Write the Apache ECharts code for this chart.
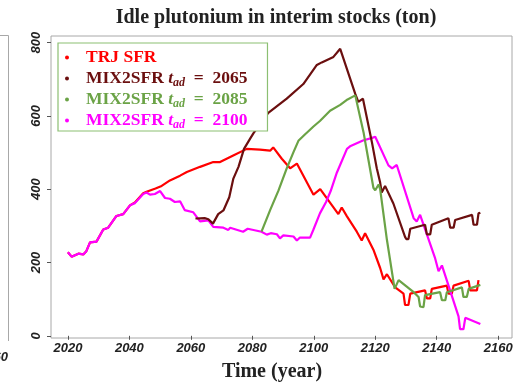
<!DOCTYPE html>
<html><head><meta charset="utf-8">
<script src="https://cdn.jsdelivr.net/npm/echarts@6/dist/echarts.min.js"></script>
<style>html,body{margin:0;padding:0;background:#fff}#c{width:522px;height:387px}</style>
</head><body><div id="c"></div>
<script>
// ---- data ----
const xTicks = [2020, 2040, 2060, 2080, 2100, 2120, 2140, 2160];
const yTicks = [0, 200, 400, 600, 800];
const seriesNames = ['TRJ SFR', 'MIX2SFR t_ad = 2065', 'MIX2SFR t_ad = 2085', 'MIX2SFR t_ad = 2100'];

const trjYears = [2020,2021.2,2023.4,2025,2026,2027.2,2029.3,2031.5,2033.1,2035.8,2038,2040.2,2041.8,2044.5,2045.6,
  2048.5,2050.5,2053.2,2056.5,2058.7,2063,2067.3,2069.5,2073.8,2078.2,2082.5,2085.8,2086.8,2089.6,2092.3,2094.5,
  2099.9,2102.1,2108,2109.1,2110.8,2114,2115.6,2116.7,2119.4,2121.6,2122.7,2123.8,2126.5,2129.2,2129.7,2130.8,
  2131.4,2136.2,2136.8,2137.9,2138.4,2143.3,2143.8,2144.9,2145.5,2150.4,2150.9,2153.1,2153.6];
const trjValues = [228,216,224,222,231,255,257,290,295,327,332,356,364,389,393,
  402,409,424,437,447,461,474,474,492,510,508,505,514,483,457,470,
  385,400,332,350,326,284,260,280,235,185,154,168,132,115,84,84,
  115,124,102,102,128,137,115,115,137,150,124,124,152];

const m2065Years = [2061.5,2064.5,2065.7,2067.2,2068.9,2070.6,2072.5,2073.8,2075.5,2077.3,2079.3,2080.4,2085.2,2091.2,
  2096.6,2101,2102.6,2106.4,2108.6,2113.5,2114.5,2116,2118.9,2120.5,2121.6,2122.1,2123.2,2125.9,2129.7,2130.1,
  2130.8,2131.4,2136.2,2136.8,2137.9,2138.4,2143.8,2144.4,2145.5,2146,2151.5,2152,2153.1,2153.6,2154.2];
const m2065Values = [320,321,318,306,332,342,378,428,461,510,538,553,608,647,
  687,739,746,761,783,660,638,647,529,457,418,391,409,361,270,264,
  264,292,303,277,277,303,321,295,295,316,330,303,303,334,336];

const m2085Years = [2083,2085.8,2088.5,2091.2,2093.4,2095,2096.6,2099.9,2102,2105.3,2108.6,2111,2113.5,2116.2,2117.3,
  2119.4,2120,2121.1,2121.6,2123.8,2126.3,2127.6,2132.5,2134.1,2134.6,2135.7,2136.2,2141.1,2141.7,2142.8,2143.3,
  2148.2,2148.7,2149.8,2150.4,2154.2];
const m2085Values = [284,343,396,457,501,532,545,571,586,614,630,645,656,555,503,
  404,397,413,400,262,128,152,119,106,80,78,111,119,97,97,119,
  132,106,106,128,139];

const m2100Years = [2020,2021.2,2023.4,2025,2026,2027.2,2029.3,2031.5,2033.1,2035.8,2038,2040.2,2041.8,2044.5,2045.6,
  2046.7,2048.3,2050,2051.6,2053.2,2054.8,2056.5,2058,2060.8,2063,2065.7,2067.3,2070.6,2072.2,2072.8,2077,2078.5,
  2083,2084.7,2086,2088,2089,2090.1,2093.4,2094.5,2095.5,2098.8,2099.9,2102,2104,2105.5,2107.5,2110.8,2112,2116,
  2119,2120,2124.3,2125.5,2127,2132.5,2133.5,2134.6,2139.5,2140.6,2141.7,2147.1,2147.6,2148.7,2149.3,2154.2];
const m2100Values = [228,216,224,222,231,255,257,290,295,327,332,356,362,387,391,
  385,387,395,376,374,365,367,343,337,312,315,297,295,289,295,284,292,
  284,276,280,277,266,274,271,260,268,268,290,334,365,395,445,510,518,533,
  540,543,465,457,466,321,312,330,211,176,192,53,18,18,49,32];

// ---- chart ----
const colors = ['#FF0000', '#6B0F0F', '#6BA346', '#FF00FF'];
const zip = (xs, ys) => xs.map((x, i) => [x, ys[i]]);
const seriesData = [zip(trjYears, trjValues), zip(m2065Years, m2065Values), zip(m2085Years, m2085Values), zip(m2100Years, m2100Values)];
const order = [0, 3, 1, 2];

const serif = '"Liberation Serif", "DejaVu Serif", serif';
const sans = '"Liberation Sans", Arial, sans-serif';
const rich = {
  sp: {width: 12},
  n: {fontFamily: serif, fontWeight: 'bold', fontSize: 17.5},
  t: {fontFamily: serif, fontWeight: 'bold', fontStyle: 'italic', fontSize: 17.5},
  s: {fontFamily: serif, fontWeight: 'bold', fontStyle: 'italic', fontSize: 12, padding: [9, 0, 0, 0]}
};

const chart = echarts.init(document.getElementById('c'), null, {renderer: 'canvas'});
chart.setOption({
  animation: false,
  backgroundColor: '#fff',
  title: {
    text: 'Idle plutonium in interim stocks (ton)',
    left: 271, top: 3, textAlign: 'center',
    textStyle: {fontFamily: serif, fontWeight: 'bold', fontSize: 20, color: '#222'}
  },
  grid: {left: 51, right: 10, top: 36, bottom: 38, show: true, borderColor: '#A8A8A8', borderWidth: 1},
  legend: {
    orient: 'vertical', left: 58, top: 43,
    padding: [4, 20, 0, 7], itemGap: 0,
    backgroundColor: '#fff', borderColor: '#8CBF72', borderWidth: 1.2,
    icon: 'circle', itemWidth: 4, itemHeight: 4,
    selectedMode: false,
    data: seriesNames.map((n, i) => ({name: n, textStyle: {color: colors[i], rich: rich, lineHeight: 21}})),
    textStyle: {rich: rich, lineHeight: 21},
    formatter: function (name) {
      if (name.indexOf('t_ad') < 0) return '{sp| }{n|' + name + '}';
      const parts = name.split(' t_ad = ');
      return '{sp| }{n|' + parts[0] + ' }{t|t}{s|ad}{n|  =  ' + parts[1] + '}';
    }
  },
  xAxis: {
    type: 'value', min: 2014.5, max: 2164.5,
    name: 'Time (year)', nameLocation: 'middle', nameGap: 24,
    nameTextStyle: {fontFamily: serif, fontWeight: 'bold', fontSize: 20, color: '#222', padding: [0, 19, 0, 0]},
    splitLine: {show: false},
    axisLine: {show: false},
    axisTick: {show: true, length: 4, customValues: xTicks, lineStyle: {color: '#555'}},
    axisLabel: {customValues: xTicks, formatter: v => String(Math.round(v)), margin: 4, fontFamily: sans, fontWeight: 'bold', fontStyle: 'italic', fontSize: 13, color: '#222'}
  },
  yAxis: {
    type: 'value', min: -6, max: 818,
    splitLine: {show: false},
    axisLine: {show: false},
    axisTick: {show: true, length: 4, customValues: yTicks, lineStyle: {color: '#555'}},
    axisLabel: {customValues: yTicks, formatter: v => String(Math.round(v)), rotate: 90, margin: 8, fontFamily: sans, fontWeight: 'bold', fontStyle: 'italic', fontSize: 13, color: '#222'}
  },
  graphic: [
    {type: 'polyline', shape: {points: [[0, 35.5], [8.5, 35.5], [8.5, 341]]}, style: {stroke: '#A8A8A8', lineWidth: 1, fill: null}},
    {type: 'text', x: 8, y: 351, style: {text: '2160', align: 'right', font: 'italic bold 13px "Liberation Sans", Arial, sans-serif', fill: '#222'}}
  ],
  series: order.map(i => ({
    name: seriesNames[i], type: 'line', data: seriesData[i], showSymbol: false, symbol: 'circle',
    color: colors[i], lineStyle: {width: 2.2, color: colors[i]}, z: 2
  }))
});
</script>
</body></html>
